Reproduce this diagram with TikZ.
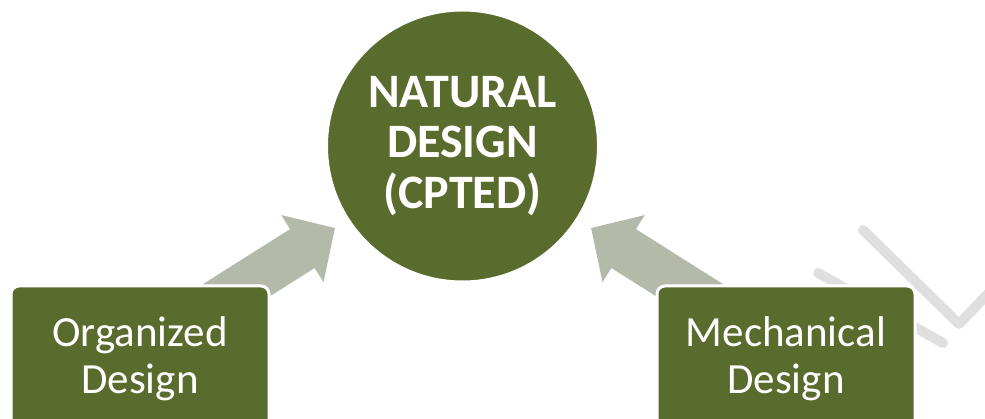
\documentclass[tikz,border=0pt]{standalone}
\usepackage{fontspec}
\setmainfont{Carlito}
\usetikzlibrary{arrows.meta,backgrounds}
\definecolor{olive}{HTML}{5A6B2E}
\definecolor{arrowgray}{HTML}{B4BAAA}
\definecolor{wmgray}{HTML}{DFDFDF}
\tikzset{
  hub/.style={circle, fill=olive, draw=white, line width=3pt, minimum size=272pt,
    inner sep=0pt, text=white, align=center,
    font=\fontsize{48pt}{50.5pt}\selectfont\bfseries},
  sidebox/.style={rectangle, rounded corners=8pt, fill=olive, draw=white, line width=3pt,
    minimum width=258pt, minimum height=146pt, inner sep=0pt, text=white, align=center,
    font=\fontsize{43pt}{47pt}\selectfont},
  blockarrow/.style={arrowgray, line width=46pt,
    -{Triangle[length=38.6pt 0 0, width=77pt 0 0]}},
  watermark/.style={wmgray, line width=10pt, line cap=round, line join=round}
}
\begin{document}
\begin{tikzpicture}[x=1pt,y=-1pt]
\useasboundingbox (0,0) rectangle (985,419);
\clip (0,0) rectangle (985,419);
% watermark
\draw[watermark] (863,230) -- (959,324) -- (1005,276);
\draw[watermark] (818,273) -- (943,343);
% nodes
\node[hub] (hub) at (462.5,146) {NATURAL\\DESIGN\\(CPTED)};
\node[sidebox] (org) at (140,359) {Organized\\Design};
\node[sidebox] (mech) at (786,359) {Mechanical\\Design};
\coordinate (tipL) at (335,228);
\coordinate (tipR) at (591,228);
\begin{scope}[on background layer]
\fill[white] (0,0) rectangle (985,419);
\draw[blockarrow] ([yshift=8pt]org.center) -- (tipL);
\draw[blockarrow] ([yshift=8pt]mech.center) -- (tipR);
\end{scope}
\end{tikzpicture}
\end{document}
